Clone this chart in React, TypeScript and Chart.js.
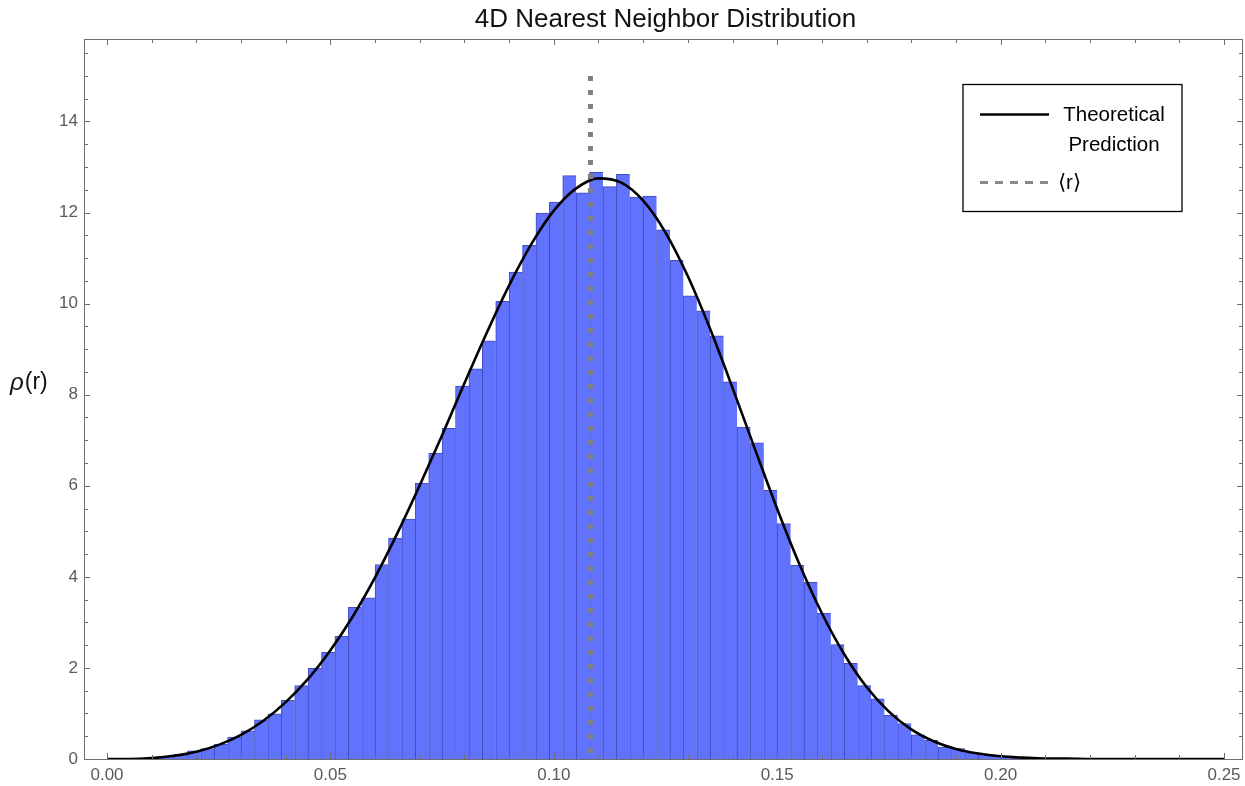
import { useEffect, useRef } from "react";
import { Chart, registerables } from "chart.js";

Chart.register(...registerables);

// Histogram of nearest-neighbour distances: bins of width 0.003 starting at r = 0
const BIN_WIDTH = 0.003;
const binDensity = [
  0, 0, 0.01, 0.02, 0.06, 0.1, 0.18, 0.23, 0.32, 0.48,
  0.62, 0.86, 0.99, 1.29, 1.61, 1.99, 2.34, 2.7, 3.33, 3.54,
  4.27, 4.85, 5.27, 6.06, 6.71, 7.26, 8.19, 8.57, 9.18, 10.05,
  10.69, 11.28, 11.99, 12.23, 12.81, 12.43, 12.88, 12.57, 12.84, 12.34,
  12.36, 11.62, 10.95, 10.17, 9.84, 9.29, 8.28, 7.29, 6.94, 5.9,
  5.17, 4.25, 3.88, 3.2, 2.51, 2.1, 1.61, 1.32, 0.96, 0.78,
  0.53, 0.41, 0.26, 0.23, 0.14, 0.1, 0.07, 0.04, 0.02, 0.01,
];
const binCenters = binDensity.map((_, i) => (i + 0.5) * BIN_WIDTH);

// Theoretical prediction curve samples
const curveR = [
  0, 0.005, 0.01, 0.015, 0.02, 0.025, 0.03, 0.035, 0.04, 0.045,
  0.05, 0.055, 0.06, 0.065, 0.07, 0.075, 0.08, 0.085, 0.09, 0.095,
  0.1, 0.105, 0.11, 0.115, 0.12, 0.125, 0.13, 0.135, 0.14, 0.145,
  0.15, 0.155, 0.16, 0.165, 0.17, 0.175, 0.18, 0.185, 0.19, 0.195,
  0.2, 0.205, 0.21, 0.215, 0.22, 0.23, 0.24, 0.25,
];
const curveRho = [
  0, 0, 0.02, 0.07, 0.16, 0.31, 0.53, 0.84, 1.25, 1.76,
  2.39, 3.13, 3.99, 4.96, 6.01, 7.11, 8.25, 9.36, 10.4, 11.31,
  12.04, 12.53, 12.75, 12.66, 12.26, 11.56, 10.6, 9.44, 8.15, 6.81,
  5.49, 4.27, 3.2, 2.3, 1.58, 1.04, 0.65, 0.39, 0.22, 0.12,
  0.06, 0.03, 0.01, 0.01, 0, 0, 0, 0,
];

// Mean nearest-neighbour distance marker
const MEAN_R = 0.1082;
const MEAN_LINE_RHO = [15, 0];

const X_TICKS = [0, 0.05, 0.1, 0.15, 0.2, 0.25];
const Y_TICKS = [0, 2, 4, 6, 8, 10, 12, 14];
const X_MINOR_STEP = 0.01;
const Y_MINOR_STEP = 0.5;

const TITLE = "4D Nearest Neighbor Distribution";
const LEGEND_CURVE = ["Theoretical", "Prediction"];
const LEGEND_MEAN = "\u27E8r\u27E9";

const FONT = '"Liberation Sans", Arial, Helvetica, sans-serif';
const FRAME_COLOR = "#6e6e6e";
const TICK_LABEL_COLOR = "#5a5a5a";

const framePlugin = {
  id: "frameTicks",
  afterDatasetsDraw(chart: any) {
    const { ctx, chartArea: a, scales } = chart;
    const x = scales.x;
    const y = scales.y;
    ctx.save();
    ctx.strokeStyle = FRAME_COLOR;
    ctx.lineWidth = 1;
    ctx.beginPath();
    // x-direction ticks on bottom and top edges
    for (let i = 0; ; i++) {
      const v = i * X_MINOR_STEP;
      if (v > x.max + 1e-9) break;
      const px = Math.round(x.getPixelForValue(v)) + 0.5;
      const len = i % 5 === 0 ? 6 : 4;
      ctx.moveTo(px, a.bottom);
      ctx.lineTo(px, a.bottom - len);
      ctx.moveTo(px, a.top);
      ctx.lineTo(px, a.top + len);
    }
    // y-direction ticks on left and right edges
    for (let i = 0; ; i++) {
      const v = i * Y_MINOR_STEP;
      if (v > y.max + 1e-9) break;
      const py = Math.round(y.getPixelForValue(v)) + 0.5;
      const len = i % 4 === 0 ? 6 : 4;
      ctx.moveTo(a.left, py);
      ctx.lineTo(a.left + len, py);
      ctx.moveTo(a.right, py);
      ctx.lineTo(a.right - len, py);
    }
    ctx.stroke();
    ctx.strokeRect(a.left + 0.5, a.top + 0.5, a.right - a.left - 1, a.bottom - a.top);
    ctx.restore();
  },
};

const annotationPlugin = {
  id: "textAndLegend",
  afterDraw(chart: any) {
    const { ctx, chartArea: a } = chart;
    ctx.save();

    // Title
    ctx.fillStyle = "#111";
    ctx.font = `26px ${FONT}`;
    ctx.textAlign = "center";
    ctx.textBaseline = "middle";
    ctx.fillText(TITLE, (a.left + a.right) / 2 + 2, 20);

    // Y-axis label: italic rho followed by (r)
    const labelY = 383;
    ctx.textAlign = "left";
    ctx.font = `italic 24px ${FONT}`;
    ctx.fillText("\u03C1", 10, labelY);
    const rhoW = ctx.measureText("\u03C1").width;
    ctx.font = `23px ${FONT}`;
    ctx.fillText("(r)", 10 + rhoW + 1, labelY);

    // Legend box
    const bx = a.right - 280;
    const by = 84.5;
    const bw = 219;
    const bh = 127;
    ctx.fillStyle = "#ffffff";
    ctx.fillRect(bx, by, bw, bh);
    ctx.strokeStyle = "#000";
    ctx.lineWidth = 1.3;
    ctx.strokeRect(bx, by, bw, bh);

    // Solid curve sample
    ctx.beginPath();
    ctx.lineWidth = 2.6;
    ctx.strokeStyle = "#000";
    ctx.moveTo(bx + 17, 114.5);
    ctx.lineTo(bx + 86, 114.5);
    ctx.stroke();

    // Dashed mean sample
    ctx.beginPath();
    ctx.lineWidth = 3;
    ctx.strokeStyle = "#8a8a8a";
    ctx.setLineDash([8, 7]);
    ctx.moveTo(bx + 17, 182.5);
    ctx.lineTo(bx + 85, 182.5);
    ctx.stroke();
    ctx.setLineDash([]);

    ctx.fillStyle = "#000";
    ctx.font = `20.5px ${FONT}`;
    ctx.textAlign = "center";
    ctx.fillText(LEGEND_CURVE[0], bx + 151, 115);
    ctx.fillText(LEGEND_CURVE[1], bx + 151, 145);
    ctx.textAlign = "left";
    ctx.fillText(LEGEND_MEAN, bx + 95, 183);

    ctx.restore();
  },
};

export default function App() {
  const canvasRef = useRef<HTMLCanvasElement | null>(null);

  useEffect(() => {
    const canvas = canvasRef.current;
    if (!canvas) return;

    const chart = new Chart(canvas, {
      type: "bar",
      data: {
        datasets: [
          {
            type: "line",
            label: "\u27E8r\u27E9",
            data: MEAN_LINE_RHO.map((v) => ({ x: MEAN_R, y: v })),
            borderColor: "#808080",
            borderWidth: 5,
            borderDash: [5, 9],
            borderCapStyle: "butt",
            pointRadius: 0,
            fill: false,
            order: 1,
          },
          {
            type: "line",
            label: "Theoretical Prediction",
            data: curveR.map((r, i) => ({ x: r, y: curveRho[i] })),
            borderColor: "#000000",
            borderWidth: 2.6,
            pointRadius: 0,
            cubicInterpolationMode: "monotone",
            fill: false,
            order: 2,
          },
          {
            type: "bar",
            label: "Histogram",
            data: binCenters.map((c, i) => ({ x: c, y: binDensity[i] })),
            backgroundColor: "rgb(97, 114, 253)",
            borderColor: "rgba(45, 58, 185, 0.9)",
            borderWidth: { top: 1, left: 1, right: 0, bottom: 0 },
            borderSkipped: false,
            barPercentage: 1,
            categoryPercentage: 1,
            order: 3,
          } as any,
        ],
      },
      options: {
        animation: false,
        responsive: false,
        devicePixelRatio: 1,
        layout: { padding: { top: 39, left: 0, right: 2, bottom: 0 } },
        plugins: {
          legend: { display: false },
          title: { display: false },
          tooltip: { enabled: false },
        },
        events: [],
        scales: {
          x: {
            type: "linear",
            offset: false,
            min: -0.00515,
            max: 0.25425,
            grid: { display: false, drawTicks: false },
            border: { display: false },
            afterBuildTicks: (scale: any) => {
              scale.ticks = X_TICKS.map((v) => ({ value: v }));
            },
            afterFit: (scale: any) => {
              scale.height = 27;
              scale.paddingLeft = 0;
              scale.paddingRight = 0;
            },
            ticks: {
              color: TICK_LABEL_COLOR,
              font: { family: FONT, size: 17 },
              padding: 6,
              maxRotation: 0,
              autoSkip: false,
              callback: (v: any) => Number(v).toFixed(2),
            },
          },
          y: {
            type: "linear",
            min: 0,
            max: 15.81,
            grid: { display: false, drawTicks: false },
            border: { display: false },
            afterBuildTicks: (scale: any) => {
              scale.ticks = Y_TICKS.map((v) => ({ value: v }));
            },
            afterFit: (scale: any) => {
              scale.width = 84;
              scale.paddingTop = 0;
              scale.paddingBottom = 0;
            },
            ticks: {
              color: TICK_LABEL_COLOR,
              font: { family: FONT, size: 17 },
              padding: 6,
              autoSkip: false,
              callback: (v: any) => String(v),
            },
          },
        },
      },
      plugins: [framePlugin, annotationPlugin],
    } as any);

    return () => chart.destroy();
  }, []);

  return (
    <div style={{ position: "fixed", left: 0, top: 0, width: 1245, height: 786, background: "#fff" }}>
      <canvas ref={canvasRef} width={1245} height={786} style={{ display: "block" }} />
    </div>
  );
}
